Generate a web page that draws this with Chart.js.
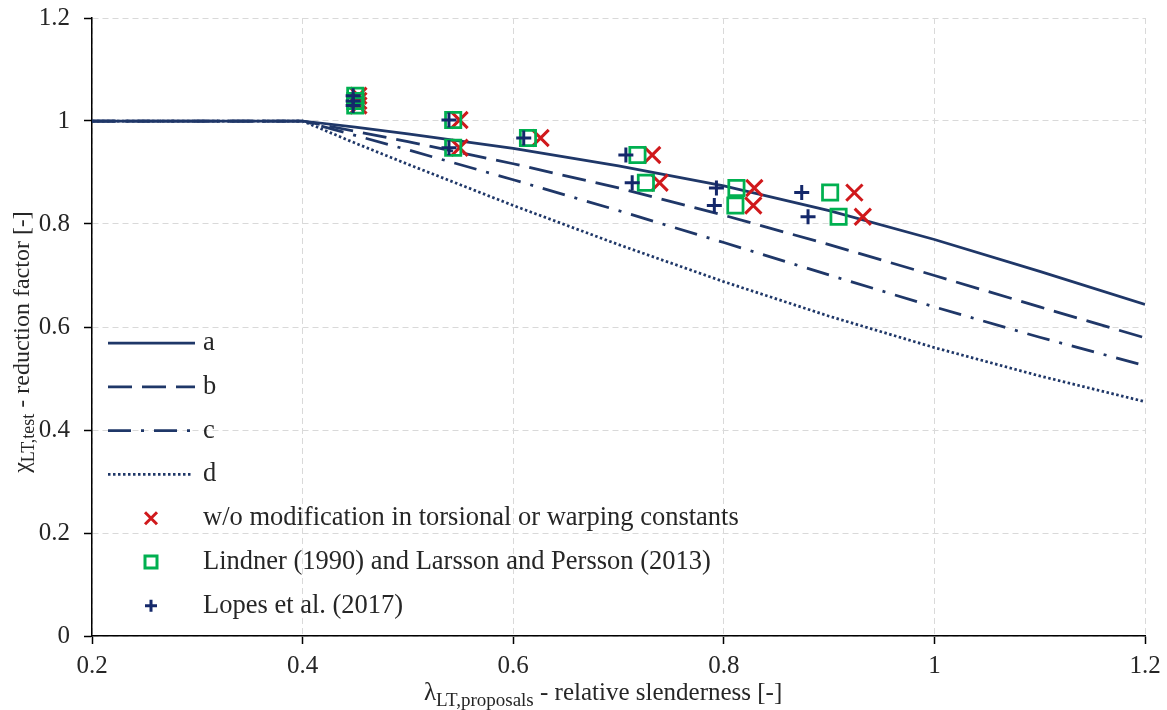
<!DOCTYPE html>
<html>
<head>
<meta charset="utf-8">
<script src="https://cdn.jsdelivr.net/npm/chart.js@4.4.0/dist/chart.umd.min.js"></script>
<style>
    html, body { margin: 0; padding: 0; background: #fff; }
    #wrap { width: 1167px; height: 710px; }
</style>
</head>
<body>
<div id="wrap"><canvas id="chart" width="1167" height="710"></canvas></div>
<script>
// buckling curves a-d
const lambdaCurve = [0.2, 0.4, 0.45, 0.5, 0.6, 0.7, 0.8, 0.9, 1.0, 1.1, 1.2];
const curveA = [1, 1, 0.988, 0.975, 0.947, 0.913, 0.874, 0.826, 0.770, 0.708, 0.644];
const curveB = [1, 1, 0.980, 0.960, 0.917, 0.870, 0.817, 0.760, 0.700, 0.639, 0.579];
const curveC = [1, 1, 0.972, 0.944, 0.886, 0.826, 0.764, 0.701, 0.639, 0.580, 0.525];
const curveD = [1, 1, 0.957, 0.916, 0.836, 0.760, 0.688, 0.621, 0.560, 0.505, 0.455];

// test results
const chiTest = [1.049, 1.039, 1.030, 1.002, 0.948, 0.967, 0.934, 0.880, 0.870, 0.836, 0.861, 0.814];
const lambdaNoMod = [0.453, 0.453, 0.453, 0.549, 0.549, 0.626, 0.732, 0.739, 0.829, 0.828, 0.924, 0.932];
const lambdaLindner = [0.450, 0.450, 0.450, 0.543, 0.543, 0.614, 0.718, 0.726, 0.812, 0.811, 0.901, 0.909];
const lambdaLopes = [0.448, 0.448, 0.448, 0.539, 0.539, 0.610, 0.707, 0.713, 0.793, 0.791, 0.874, 0.880];

const xTicks = [0.2, 0.4, 0.6, 0.8, 1, 1.2];
const yTicks = [0, 0.2, 0.4, 0.6, 0.8, 1, 1.2];

const seriesLabels = ['a', 'b', 'c', 'd',
    'w/o modification in torsional or warping constants',
    'Lindner (1990) and Larsson and Persson (2013)',
    'Lopes et al. (2017)'];

const NAVY = '#1F3768';
const TEXT = '#262626';
const FONT = 'Liberation Serif';

const toPoints = (xs, ys) => xs.map((x, i) => ({ x: x, y: ys[i] }));

function curveSet(label, ys, dash) {
    return {
        label: label, data: toPoints(lambdaCurve, ys), showLine: true,
        borderColor: NAVY, borderWidth: 2.75, borderDash: dash,
        pointRadius: 0, fill: false, tension: 0, order: 3
    };
}

function markerSet(label, xs, style, color, radius, width, order) {
    return {
        label: label, data: toPoints(xs, chiTest), showLine: false,
        pointStyle: style, pointRadius: radius, pointBorderWidth: width,
        pointBorderColor: color, pointBackgroundColor: 'rgba(0,0,0,0)',
        borderColor: color, legendStyle: style, order: order
    };
}

const datasets = [
    curveSet(seriesLabels[0], curveA, []),
    curveSet(seriesLabels[1], curveB, [24, 10]),
    curveSet(seriesLabels[2], curveC, [23, 10, 3, 10]),
    curveSet(seriesLabels[3], curveD, [2.5, 2.5]),
    markerSet(seriesLabels[4], lambdaNoMod, 'crossRot', '#D0191C', 11.5, 3, 2),
    markerSet(seriesLabels[5], lambdaLindner, 'rect', '#00B050', 10.8, 2.75, 1),
    markerSet(seriesLabels[6], lambdaLopes, 'cross', '#14286A', 7.5, 3, 0)
];

function drawMarker(ctx, style, x, y, half) {
    ctx.beginPath();
    if (style === 'crossRot') {
        ctx.moveTo(x - half, y - half); ctx.lineTo(x + half, y + half);
        ctx.moveTo(x + half, y - half); ctx.lineTo(x - half, y + half);
    } else if (style === 'rect') {
        ctx.rect(x - half, y - half, 2 * half, 2 * half);
    } else {
        ctx.moveTo(x - half, y); ctx.lineTo(x + half, y);
        ctx.moveTo(x, y - half); ctx.lineTo(x, y + half);
    }
    ctx.stroke();
}

// legend sits inside the plot, lower left
const insideLegend = {
    id: 'insideLegend',
    afterDraw(chart) {
        const ctx = chart.ctx;
        const left = chart.chartArea.left;
        ctx.save();
        ctx.font = `26.5px "${FONT}"`;
        ctx.textBaseline = 'middle';
        ctx.fillStyle = TEXT;
        chart.data.datasets.forEach((ds, i) => {
            const y = 343 + i * 43.8;
            ctx.strokeStyle = ds.borderColor;
            if (ds.showLine) {
                ctx.lineWidth = ds.borderWidth;
                ctx.setLineDash(ds.borderDash);
                ctx.beginPath();
                ctx.moveTo(left + 16, y);
                ctx.lineTo(left + (i === 3 ? 100 : 103), y);
                ctx.stroke();
            } else {
                ctx.lineWidth = 3;
                ctx.setLineDash([]);
                drawMarker(ctx, ds.legendStyle, left + 59, y, 6);
            }
            ctx.fillText(ds.label, left + 111, y);
        });
        ctx.restore();
    }
};

function drawRichText(ctx, parts, x0, cy, angle, size, subSize, centred) {
    ctx.save();
    ctx.translate(x0, cy);
    ctx.rotate(angle);
    ctx.fillStyle = TEXT;
    ctx.textBaseline = 'alphabetic';
    ctx.textAlign = 'left';
    let total = 0;
    parts.forEach(p => {
        ctx.font = `${p.sub ? subSize : size}px "${FONT}"`;
        total += ctx.measureText(p.text).width;
    });
    let x = centred ? -total / 2 : 0;
    parts.forEach(p => {
        ctx.font = `${p.sub ? subSize : size}px "${FONT}"`;
        ctx.fillText(p.text, x, p.sub ? size * 0.33 + subSize * 0.3 : size * 0.33);
        x += ctx.measureText(p.text).width;
    });
    ctx.restore();
}

const axisTitles = {
    id: 'axisTitles',
    afterDraw(chart) {
        drawRichText(chart.ctx, [
            { text: 'λ' }, { text: 'LT,proposals', sub: true },
            { text: ' - relative slenderness [-]' }
        ], 424, 692, 0, 25, 19, false);
        drawRichText(chart.ctx, [
            { text: 'χ' }, { text: 'LT,test', sub: true },
            { text: ' - reduction factor [-]' }
        ], 21, 342, -Math.PI / 2, 24, 18, true);
    }
};

const fmt = v => String(+Number(v).toFixed(1));

new Chart(document.getElementById('chart'), {
    type: 'scatter',
    data: { datasets: datasets },
    options: {
        responsive: false,
        animation: false,
        events: [],
        layout: { padding: { top: 18, right: 22, bottom: 0, left: 0 } },
        plugins: { legend: { display: false }, tooltip: { enabled: false } },
        scales: {
            x: {
                type: 'linear', min: 0.2, max: 1.2,
                afterBuildTicks: s => { s.ticks = xTicks.map(v => ({ value: v })); },
                afterFit: s => { s.height = 74; s.paddingLeft = 0; s.paddingRight = 0; },
                ticks: { font: { family: FONT, size: 25 }, color: TEXT, padding: 7, callback: fmt, maxRotation: 0 },
                grid: { color: '#D9D9D9', lineWidth: 1, tickLength: 8, tickColor: '#000', tickWidth: 1.5, tickBorderDash: [] },
                border: { color: '#000', width: 1.5, dash: [6, 4] }
            },
            y: {
                type: 'linear', min: 0, max: 1.2,
                afterBuildTicks: s => { s.ticks = yTicks.map(v => ({ value: v })); },
                afterFit: s => { s.width = 92; s.paddingTop = 0; s.paddingBottom = 0; },
                ticks: { font: { family: FONT, size: 25 }, color: TEXT, padding: 14, callback: fmt },
                grid: { color: '#D9D9D9', lineWidth: 1, tickLength: 8, tickColor: '#000', tickWidth: 1.5, tickBorderDash: [] },
                border: { color: '#000', width: 1.5, dash: [6, 4] }
            }
        }
    },
    plugins: [insideLegend, axisTitles]
});
</script>
</body>
</html>
